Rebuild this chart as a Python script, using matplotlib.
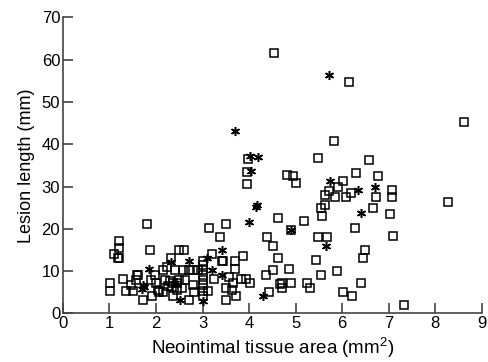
import matplotlib
matplotlib.use('Agg')
import matplotlib.pyplot as plt

plt.rcParams['font.family'] = ['Liberation Sans', 'DejaVu Sans']
plt.rcParams['mathtext.default'] = 'regular'

# open squares
sq_x = [1.01, 1.01, 1.10, 1.21, 1.21, 1.21, 1.18, 1.30, 1.35, 1.46, 1.50, 1.58, 1.60, 1.62, 1.71,
        1.81, 1.87, 1.89, 1.91, 1.98, 2.01, 2.05, 2.07, 2.16, 2.16, 2.19, 2.24, 2.25, 2.30, 2.32,
        2.35, 2.37, 2.37, 2.41, 2.45, 2.45, 2.49, 2.50, 2.55, 2.59, 2.60, 2.62, 2.70, 2.72, 2.80,
        2.80, 2.82, 2.91, 3.00, 3.00, 3.00, 3.00, 3.00, 3.00, 3.00, 3.00, 3.12, 3.14, 3.21, 3.25,
        3.38, 3.41, 3.45, 3.50, 3.50, 3.50, 3.56, 3.64, 3.66, 3.70, 3.70, 3.73, 3.82, 3.88, 3.93,
        3.95, 3.95, 3.97, 4.01, 4.36, 4.38, 4.42, 4.51, 4.51, 4.54, 4.63, 4.63, 4.67, 4.70, 4.70,
        4.81, 4.86, 4.90, 4.90, 4.95, 5.02, 5.18, 5.24, 5.31, 5.43, 5.48, 5.48, 5.54, 5.55, 5.56,
        5.63, 5.63, 5.67, 5.72, 5.83, 5.85, 5.90, 5.92, 6.01, 6.01, 6.08, 6.14, 6.19, 6.21, 6.28,
        6.30, 6.41, 6.46, 6.49, 6.57, 6.67, 6.72, 6.77, 7.03, 7.08, 7.08, 7.10, 7.33, 8.27, 8.61]
sq_y = [7.1, 5.3, 14.1, 17.2, 15.5, 13.2, 13.2, 8.2, 5.3, 6.7, 5.3, 8.0, 9.2, 9.0, 3.2,
        21.1, 15.1, 8.0, 4.2, 9.0, 7.1, 5.5, 5.1, 5.1, 10.2, 8.0, 11.1, 6.6, 7.6, 13.2,
        6.3, 7.1, 4.2, 10.2, 7.1, 5.6, 15.1, 7.8, 6.0, 10.2, 15.1, 8.0, 10.2, 3.2, 10.2,
        6.7, 5.1, 10.2, 12.5, 11.4, 10.2, 9.0, 7.8, 6.7, 5.3, 4.1, 5.3, 20.1, 14.1, 8.1,
        18.0, 12.4, 12.3, 21.1, 6.1, 3.2, 8.6, 5.5, 7.1, 12.3, 10.4, 4.1, 8.1, 13.5, 8.1,
        30.5, 33.4, 36.5, 7.1, 9.2, 18.1, 5.1, 16.0, 10.3, 61.5, 13.1, 22.5, 6.9, 6.0, 7.1,
        32.7, 10.6, 19.8, 7.1, 32.4, 30.9, 21.9, 7.1, 6.1, 12.7, 36.8, 18.0, 9.0, 25.0, 23.1,
        25.6, 27.9, 18.0, 28.9, 40.7, 27.5, 10.0, 29.9, 31.3, 5.1, 27.5, 54.7, 28.5, 4.1, 20.1,
        33.2, 7.1, 13.1, 15.0, 36.4, 24.9, 27.5, 32.4, 23.5, 29.3, 27.5, 18.4, 2.0, 26.4, 45.2]

# asterisks
st_x = [1.69, 1.71, 1.75, 1.86, 2.32, 2.40, 2.52, 2.71, 3.02, 3.09, 3.20, 3.41, 3.41, 3.70,
        4.00, 4.04, 4.02, 4.19, 4.15, 4.18, 4.31, 4.90, 5.65, 5.71, 5.74, 6.34, 6.40, 6.70]
st_y = [5.9, 6.7, 6.2, 10.4, 12.1, 7.3, 3.2, 12.4, 3.0, 13.2, 10.2, 15.1, 9.0, 43.2,
        21.6, 33.7, 37.3, 37.0, 25.2, 25.6, 4.2, 19.8, 16.0, 56.3, 31.3, 29.3, 23.8, 29.9]

fig = plt.figure(figsize=(4.88, 3.62), dpi=100)
ax = fig.add_axes([0.129, 0.134, 0.858, 0.818])

ax.plot(sq_x, sq_y, linestyle='none', marker='s', markersize=6.3,
        markerfacecolor='none', markeredgecolor='black', markeredgewidth=1.1)
ax.plot(st_x, st_y, linestyle='none', marker=(6, 2, 0), markersize=6.5,
        markeredgecolor='black', markeredgewidth=1.1)

ax.set_xlim(0, 9)
ax.set_ylim(0, 70)
ax.set_xticks(range(0, 10))
ax.set_yticks(range(0, 71, 10))
ax.spines['top'].set_visible(False)
ax.spines['right'].set_visible(False)
for s in ['left', 'bottom']:
    ax.spines[s].set_color('#444444')
    ax.spines[s].set_linewidth(1.2)
ax.tick_params(direction='in', length=7, width=1.2, color='#444444', labelsize=12, pad=2)

ax.set_xlabel('Neointimal tissue area (mm$^2$)', fontsize=13.5, labelpad=3)
ax.set_ylabel('Lesion length (mm)', fontsize=13, labelpad=5)

fig.savefig('out.png', dpi=100)
